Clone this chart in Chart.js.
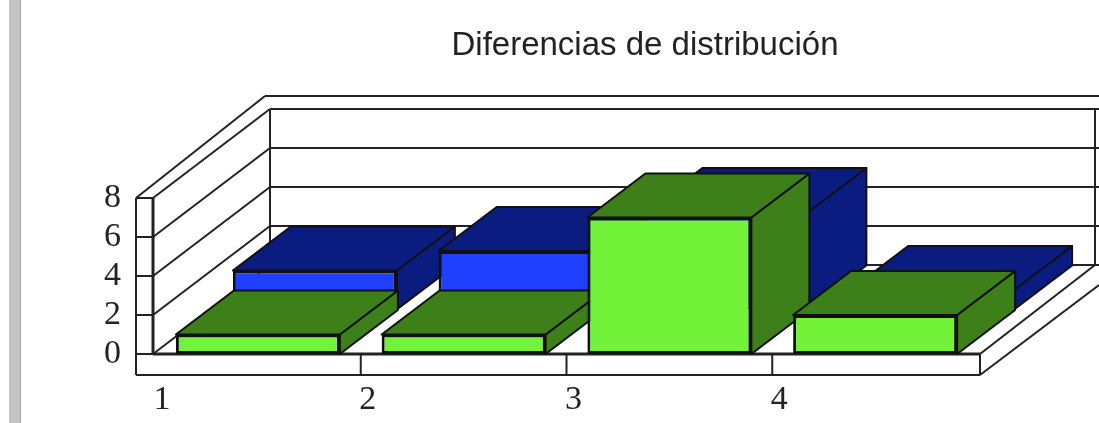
<!DOCTYPE html>
<html>
<head>
<meta charset="utf-8">
<title>Diferencias de distribución</title>
<script src="https://cdn.jsdelivr.net/npm/chart.js@4/dist/chart.umd.min.js"></script>
<style>
    html, body { margin: 0; padding: 0; background: #fff; overflow: hidden; }
    #sidebar { position: absolute; left: 9px; top: 0; width: 11px; height: 423px; background: #c4c4c4; border-right: 1px solid #a8a8a8; }
    canvas { position: absolute; left: 0; top: 0; }
</style>
</head>
<body>
<canvas id="distChart" width="1099" height="423"></canvas>
<div id="sidebar"></div>
<script>
// chart values
const categories = ['1', '2', '3', '4'];
const frontValues = [1, 1, 7, 2];
const backValues = [2, 3, 5, 1];
const chartTitle = 'Diferencias de distribución';

const LINE = '#222';

// how far the floor runs back, and the depth of one box
const FLOOR_DX = 117, FLOOR_DY = -89;
const BOX_DX = 58, BOX_DY = -44;
const ROW_SHIFT = [[0, 0], [57, -44.5]];
const SIDE_COLORS = ['#3d7f18', '#0a1c80'];

function line(ctx, x1, y1, x2, y2) {
    ctx.beginPath();
    ctx.moveTo(x1, y1);
    ctx.lineTo(x2, y2);
    ctx.stroke();
}

function poly(ctx, pts, fill) {
    ctx.beginPath();
    pts.forEach((p, i) => i ? ctx.lineTo(p[0], p[1]) : ctx.moveTo(p[0], p[1]));
    ctx.closePath();
    ctx.fillStyle = fill;
    ctx.fill();
    ctx.stroke();
}

const box3d = {
    id: 'box3d',

    // walls, floor and gridlines behind the boxes
    beforeDatasetsDraw(chart) {
        const { ctx, scales: { x, y } } = chart;
        const y0 = y.getPixelForValue(0);
        const yTop = y.getPixelForValue(8);
        const left = x.left - 2, right = x.right + 2;
        const panelLeft = 136, panelBottom = 375;
        const band = x.width / categories.length;

        ctx.save();
        ctx.strokeStyle = LINE;
        ctx.lineWidth = 2;

        // gridlines across the side wall and the back wall
        y.ticks.forEach(t => {
            const py = y.getPixelForValue(t.value);
            line(ctx, left, py, left + FLOOR_DX, py + FLOOR_DY);
            line(ctx, left + FLOOR_DX, py + FLOOR_DY, 1099, py + FLOOR_DY);
            line(ctx, panelLeft, py, left, py);
        });

        // back wall edges
        line(ctx, left + FLOOR_DX, yTop + FLOOR_DY, left + FLOOR_DX, y0 + FLOOR_DY);
        line(ctx, right + 115, yTop + FLOOR_DY, right + 115, y0 + FLOOR_DY);

        // outer rim above the walls
        line(ctx, panelLeft, yTop, 265, 96);
        line(ctx, 265, 96, 1099, 96);

        // floor edges on the right
        line(ctx, right, y0, right + 115, y0 + FLOOR_DY);
        line(ctx, right, panelBottom, right + 119, panelBottom - 90);

        // front panels
        line(ctx, panelLeft, yTop, panelLeft, panelBottom);
        line(ctx, panelLeft, panelBottom, right, panelBottom);
        line(ctx, right, y0, right, panelBottom);
        ctx.lineWidth = 3;
        line(ctx, left, yTop, left, y0);
        line(ctx, left, y0, right, y0);
        ctx.lineWidth = 2;
        for (let i = 1; i < categories.length; i++) {
            const px = x.getPixelForValue(i) - band / 2;
            line(ctx, px, y0, px, panelBottom);
        }
        ctx.restore();

        // title
        ctx.save();
        ctx.font = '33px "Liberation Sans"';
        ctx.fillStyle = '#222';
        ctx.textAlign = 'center';
        ctx.textBaseline = 'middle';
        ctx.fillText(chartTitle, 645, 46);
        ctx.restore();
    },

    // top and side of every box; the library then draws the front face in the same shifted place
    beforeDatasetDraw(chart, args) {
        const { ctx } = chart;
        const shift = ROW_SHIFT[args.index];
        ctx.save();
        ctx.translate(shift[0], shift[1]);
        ctx.strokeStyle = '#101010';
        ctx.lineWidth = 2;
        ctx.lineJoin = 'round';
        args.meta.data.forEach(bar => {
            const l = bar.x - bar.width / 2, r = bar.x + bar.width / 2;
            poly(ctx, [[r, bar.y], [r + BOX_DX, bar.y + BOX_DY], [r + BOX_DX, bar.base + BOX_DY], [r, bar.base]], SIDE_COLORS[args.index]);
            poly(ctx, [[l, bar.y], [l + BOX_DX, bar.y + BOX_DY], [r + BOX_DX, bar.y + BOX_DY], [r, bar.y]], SIDE_COLORS[args.index]);
        });
    },

    afterDatasetDraw(chart) {
        chart.ctx.restore();
    }
};

const tickFont = { family: '"Liberation Serif"', size: 34 };

new Chart(document.getElementById('distChart').getContext('2d'), {
    type: 'bar',
    data: {
        labels: categories,
        datasets: [
            { data: frontValues, backgroundColor: '#72f238' },
            { data: backValues, backgroundColor: '#2040ff' }
        ]
    },
    plugins: [box3d],
    options: {
        responsive: false,
        animation: false,
        layout: { padding: { top: 198, right: 121, left: 0, bottom: 0 } },
        datasets: {
            bar: {
                grouped: false,
                clip: false,
                categoryPercentage: 1,
                barPercentage: 0.797,
                borderColor: '#101010',
                borderWidth: 3,
                borderSkipped: false
            }
        },
        plugins: {
            legend: { display: false },
            title: { display: false },
            tooltip: { enabled: false }
        },
        scales: {
            x: {
                grid: { display: false, drawTicks: false },
                border: { display: false },
                afterFit: s => { s.height = 69; },
                ticks: {
                    font: tickFont,
                    color: '#222',
                    padding: 26,
                    labelOffset: -96,
                    autoSkip: false,
                    maxRotation: 0
                }
            },
            y: {
                min: 0,
                max: 8,
                grid: { display: false, drawTicks: false },
                border: { display: false },
                afterFit: s => { s.width = 155; },
                ticks: {
                    stepSize: 2,
                    autoSkip: false,
                    font: tickFont,
                    color: '#222',
                    padding: 34
                }
            }
        }
    }
});
</script>
</body>
</html>
